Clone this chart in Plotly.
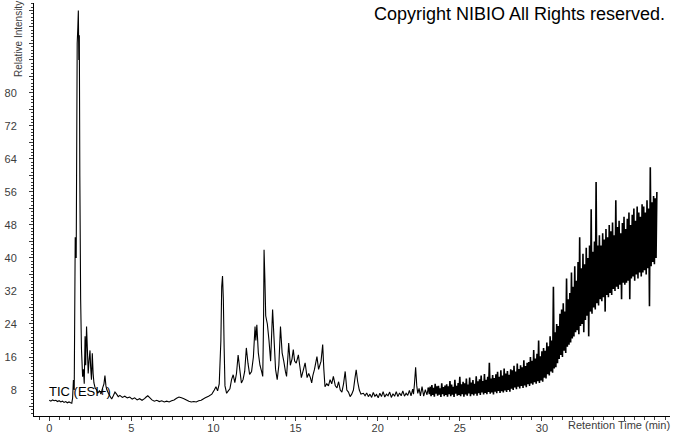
import numpy as np
import plotly.graph_objects as go

# ---------------- data ----------------
early_time = [0.0, 0.1, 0.2, 0.3, 0.4, 0.5, 0.6, 0.7, 0.8, 0.9, 1.0, 1.1, 1.2, 1.3, 1.37,
              1.42, 1.47, 1.52, 1.58, 1.64, 1.70, 1.74, 1.77, 1.80, 1.83, 1.86, 1.91, 1.96,
              2.03, 2.08, 2.13, 2.18, 2.22, 2.27, 2.32, 2.37, 2.42, 2.48, 2.52, 2.57, 2.62,
              2.67, 2.72, 2.8, 2.88, 2.95, 3.05, 3.15, 3.25, 3.33, 3.39, 3.45, 3.5, 3.6,
              3.7, 3.8, 3.9, 4.0, 4.1, 4.2, 4.3, 4.45, 4.6, 4.75, 4.9, 5.05, 5.2, 5.35,
              5.5, 5.65, 5.8, 5.9, 6.0, 6.1, 6.25, 6.4, 6.55, 6.7, 6.85, 7.0, 7.15, 7.3,
              7.45, 7.6, 7.75, 7.9, 8.05, 8.2, 8.35, 8.5, 8.65, 8.8, 8.95, 9.1, 9.25, 9.4]
early_intensity = [5.5, 5.3, 5.6, 5.4, 5.5, 5.2, 5.4, 5.1, 5.3, 5.0, 5.2, 4.9, 5.1, 4.9, 4.8,
                   6.0, 10.4, 8.0, 45.0, 40.0, 92.0, 96.0, 100.0, 88.0, 94.0, 60.0, 30.0, 18.0,
                   11.2, 13.0, 9.5, 21.0, 14.0, 23.4, 18.0, 12.0, 15.0, 17.6, 13.5, 10.5, 16.9,
                   12.0, 9.7, 8.4, 8.1, 7.2, 7.8, 7.0, 8.5, 9.5, 11.5, 9.0, 8.1, 7.2,
                   6.5, 5.8, 6.6, 7.5, 7.0, 6.4, 6.7, 6.2, 6.5, 6.1, 6.3, 5.8, 6.1, 5.6,
                   5.9, 5.5, 5.9, 6.3, 6.6, 6.2, 5.6, 5.3, 5.5, 5.2, 5.4, 5.1, 5.3, 5.1,
                   5.4, 5.6, 6.0, 6.3, 6.1, 5.9, 5.6, 5.3, 5.1, 5.2, 5.1, 5.4, 5.5, 5.9]

mid_time = [9.5, 9.7, 9.9, 10.05, 10.15, 10.25, 10.35, 10.45, 10.5, 10.55, 10.6, 10.65, 10.7,
            10.8, 10.9, 11.0, 11.1, 11.2, 11.3, 11.4, 11.5, 11.6, 11.7, 11.8, 11.9, 12.0,
            12.1, 12.2, 12.32, 12.43, 12.53, 12.58, 12.64, 12.73, 12.83, 12.93, 13.0, 13.05,
            13.08, 13.13, 13.18, 13.28, 13.38, 13.48, 13.6, 13.68, 13.78, 13.88, 13.98, 14.08,
            14.18, 14.28, 14.38, 14.45, 14.53, 14.58, 14.68, 14.78, 14.86, 14.94, 15.04, 15.17,
            15.25, 15.35, 15.45, 15.58, 15.7, 15.8, 15.9, 15.98, 16.05, 16.15, 16.3, 16.4,
            16.55, 16.65, 16.72, 16.79, 16.9, 17.0, 17.1, 17.2, 17.3, 17.42, 17.52, 17.62,
            17.72, 17.82, 17.92, 18.02, 18.12, 18.22, 18.32, 18.42, 18.52, 18.62, 18.69, 18.78,
            18.88, 18.98, 19.13, 19.23, 19.33, 19.43, 19.53, 19.63, 19.73, 19.83, 19.93, 20.03,
            20.13, 20.23, 20.33, 20.43, 20.53, 20.63, 20.73, 20.83, 20.93, 21.03, 21.13, 21.23,
            21.33, 21.43, 21.53, 21.63, 21.73, 21.83, 21.93, 22.03, 22.13, 22.18, 22.24, 22.31,
            22.38, 22.44, 22.52, 22.6, 22.7, 22.8, 22.9, 23.0, 23.08]
mid_intensity = [6.1, 6.5, 7.0, 8.0, 8.8, 7.8, 9.5, 20.0, 33.0, 35.6, 30.0, 18.0, 9.0,
                 7.2, 7.8, 8.3, 10.5, 11.7, 9.8, 12.0, 16.5, 13.0, 9.7, 10.5, 12.5, 18.2,
                 14.5, 11.8, 12.5, 16.0, 23.4, 20.0, 23.8, 17.0, 14.0, 12.5, 11.3, 25.0,
                 42.0, 35.0, 26.0, 24.0, 20.0, 15.0, 27.5, 21.0, 13.0, 10.5, 14.0, 23.4,
                 17.0, 15.0, 12.5, 11.3, 16.0, 19.4, 14.0, 15.5, 17.8, 15.0, 14.5, 16.5,
                 14.0, 11.0, 12.5, 14.6, 11.0, 12.0, 11.0, 9.7, 11.5, 13.0, 16.1, 13.0,
                 15.0, 19.0, 13.0, 8.8, 9.5, 9.0, 10.5, 9.5, 11.3, 9.0, 8.5, 10.0,
                 8.0, 7.5, 9.5, 12.5, 8.0, 7.5, 6.4, 7.0, 8.0, 11.0, 12.9, 10.0,
                 8.0, 7.0, 7.2, 6.6, 7.3, 6.4, 7.0, 6.2, 7.4, 6.5, 6.9, 6.1,
                 7.2, 6.4, 7.6, 6.3, 7.0, 6.6, 7.5, 6.2, 7.1, 6.5, 7.6, 6.4,
                 7.3, 6.6, 7.8, 6.5, 7.2, 6.7, 7.9, 6.6, 8.2, 7.0, 9.5, 13.5,
                 9.0, 7.2, 8.4, 6.6, 8.8, 6.5, 8.1, 6.8, 8.6]

# gradient part, sampled every 0.05 min from 23.15 min
gradient_start = 23.15
gradient_step = 0.05
gradient_intensity = [
    7.0, 8.8, 6.5, 9.2, 6.8, 8.5, 6.4, 9.5, 7.1, 8.9, 6.6, 9.0, 6.9, 8.4, 6.3, 9.6, 7.0, 8.7, 6.5, 9.1,
    6.8, 9.4, 6.4, 8.9, 7.0, 10.2, 6.5, 9.3, 6.9, 8.8, 6.3, 10.5, 7.1, 9.0, 6.6, 9.7, 6.8, 11.2, 6.5, 9.4,
    7.0, 10.0, 6.4, 9.6, 6.9, 10.8, 6.6, 9.3, 7.2, 11.0, 6.5, 9.8, 7.0, 10.4, 6.7, 9.5, 7.1, 11.3, 6.6, 10.1,
    7.2, 10.6, 6.8, 11.5, 7.4, 10.2, 6.9, 11.9, 7.3, 10.5, 7.0, 11.2, 7.5, 14.6, 7.1, 10.8, 7.4, 11.6, 6.9, 10.9,
    7.6, 11.8, 7.2, 12.4, 7.8, 11.2, 7.3, 12.8, 7.7, 11.5, 7.4, 13.2, 7.9, 12.0, 7.5, 12.6, 8.0, 11.7, 7.6, 13.0,
    8.3, 12.8, 8.0, 13.9, 8.6, 12.5, 8.2, 14.4, 8.8, 13.1, 8.4, 14.0, 9.0, 13.5, 8.5, 15.2, 9.1, 13.8, 8.7, 14.6,
    9.4, 14.8, 9.0, 16.0, 9.6, 15.1, 9.3, 17.7, 9.9, 15.6, 9.5, 16.8, 10.1, 20.0, 9.7, 16.2, 10.3, 17.4, 10.0, 18.2,
    11.0, 17.5, 10.8, 19.5, 11.8, 18.6, 11.5, 21.0, 12.5, 20.0, 12.2, 33.0, 13.2, 22.0, 13.5, 24.0, 14.5, 23.5, 15.5, 26.5,
    16.5, 27.5, 16.0, 29.0, 17.5, 27.0, 17.0, 35.0, 18.5, 30.0, 19.0, 31.5, 19.5, 36.5, 20.5, 33.0, 21.0, 38.0, 22.0, 34.5,
    22.5, 39.0, 21.5, 45.0, 23.5, 37.5, 24.0, 41.0, 22.0, 38.5, 25.0, 42.5, 26.0, 40.0, 21.0, 43.0, 27.0, 51.8, 26.5, 41.5,
    28.0, 44.0, 27.5, 58.4, 29.0, 43.0, 28.5, 45.5, 30.0, 43.0, 29.5, 46.0, 30.5, 44.5, 27.0, 47.0, 31.0, 45.0, 30.5, 48.0,
    31.5, 46.5, 31.0, 48.6, 32.5, 45.5, 32.0, 54.0, 33.0, 47.5, 32.5, 49.0, 33.5, 46.0, 30.0, 48.5, 34.0, 50.0, 33.5, 47.0,
    34.0, 49.5, 34.5, 51.0, 30.0, 48.0, 35.0, 50.5, 35.5, 52.0, 34.5, 49.0, 36.0, 52.5, 35.0, 51.0, 36.5, 50.0, 35.5, 53.0,
    36.5, 52.5, 37.0, 51.0, 36.0, 54.0, 37.5, 52.0, 28.3, 62.0, 38.0, 53.5, 39.0, 55.0, 38.5, 54.5, 40.0, 56.0,
]

x_tick_values = [0, 5, 10, 15, 20, 25, 30, 35]
x_tick_labels = ["0", "5", "10", "15", "20", "25", "30", ""]
y_tick_values = [4 * k for k in range(1, 26)]
y_tick_labels = [str(v) if (v % 8 == 0 and v <= 80) else "" for v in y_tick_values]

# ---------------- build figure ----------------
gradient_time = gradient_start + gradient_step * np.arange(len(gradient_intensity))
quiet_time = np.concatenate([early_time, mid_time])
quiet_intensity = np.concatenate([early_intensity, mid_intensity])
# gradient trace starts from the last quiet point so the line stays continuous
grad_x = np.concatenate([quiet_time[-1:], gradient_time])
grad_y = np.concatenate([quiet_intensity[-1:], gradient_intensity])

W, H = 673, 433
L, R, T, B = 34, 3, 3, 17
FONT = "Liberation Sans, Arial, sans-serif"
GREY = "#3c3c3c"

fig = go.Figure()
fig.add_trace(go.Scatter(x=quiet_time, y=quiet_intensity, mode="lines",
                         line=dict(color="black", width=1.1, simplify=False),
                         hoverinfo="skip", showlegend=False))
fig.add_trace(go.Scatter(x=grad_x, y=grad_y, mode="lines",
                         line=dict(color="black", width=1.6, simplify=False),
                         hoverinfo="skip", showlegend=False))

fig.update_layout(
    width=W, height=H, autosize=False,
    margin=dict(l=L, r=R, t=T, b=B, pad=0, autoexpand=False),
    paper_bgcolor="white", plot_bgcolor="white",
    font=dict(family=FONT, size=11, color=GREY),
    xaxis=dict(range=[-0.93, 37.8], showgrid=False, zeroline=False, automargin=False,
               showline=True, linecolor="black", linewidth=1,
               tickmode="array", tickvals=x_tick_values, ticktext=x_tick_labels,
               ticks="outside", ticklen=4, tickcolor=GREY, tickwidth=1,
               ticklabelstandoff=-2,
               minor=dict(tickmode="linear", tick0=0, dtick=0.625, ticks="outside",
                          ticklen=3, tickcolor=GREY, tickwidth=1, showgrid=False),
               tickfont=dict(family=FONT, size=11, color=GREY)),
    yaxis=dict(range=[1.7, 101.8], showgrid=False, zeroline=False, automargin=False,
               showline=True, linecolor="black", linewidth=1,
               tickmode="array", tickvals=y_tick_values, ticktext=y_tick_labels,
               ticks="outside", ticklen=4, tickcolor=GREY, tickwidth=1,
               ticklabelstandoff=10,
               minor=dict(tickmode="linear", tick0=0, dtick=0.8, ticks="outside",
                          ticklen=2, tickcolor=GREY, tickwidth=1, showgrid=False),
               tickfont=dict(family=FONT, size=11, color=GREY)),
)

plot_h = H - T - B
plot_w = W - L - R

def px_x(p):
    return (p - L) / plot_w

def px_y(p):
    return 1 - (p - T) / plot_h

fig.add_annotation(text="Copyright NIBIO All Rights reserved.", xref="paper", yref="paper",
                   x=px_x(667), y=px_y(14), xanchor="right", yanchor="middle",
                   showarrow=False, font=dict(family=FONT, size=18, color="black"))
fig.add_annotation(text="Relative Intensity", xref="paper", yref="paper",
                   x=px_x(18), y=px_y(79), xanchor="center", yanchor="bottom",
                   textangle=-90, showarrow=False,
                   font=dict(family=FONT, size=10, color=GREY))
fig.add_annotation(text="Retention Time (min)", xref="paper", yref="paper",
                   x=px_x(672), y=px_y(425), xanchor="right", yanchor="middle",
                   showarrow=False, font=dict(family=FONT, size=11, color=GREY))
fig.add_annotation(text="TIC (ESI+)", xref="x", yref="y",
                   x=-0.15, y=7.6, xanchor="left", yanchor="middle",
                   showarrow=False, font=dict(family=FONT, size=13, color="black"))

fig.write_html("out.html", config={"displayModeBar": False},
               post_script="document.body.style.margin='0';document.body.style.padding='0';")
